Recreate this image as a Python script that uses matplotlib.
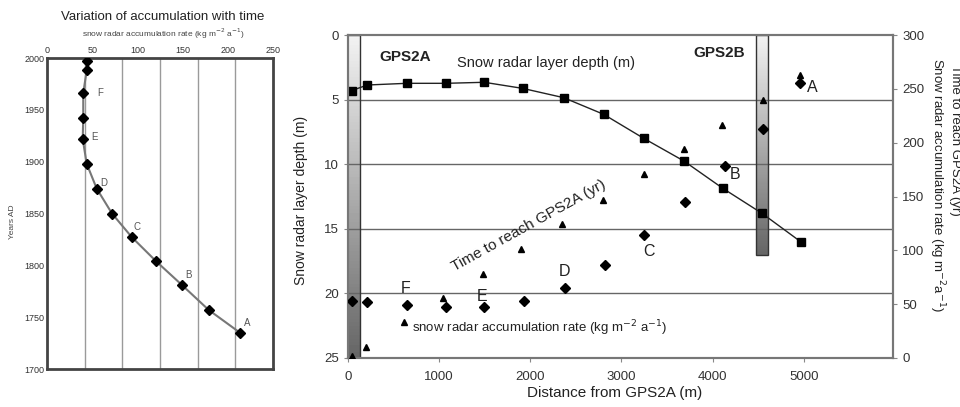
import numpy as np
import matplotlib
matplotlib.use("Agg")
import matplotlib.pyplot as plt
from matplotlib.patches import Rectangle

plt.rcParams['font.family'] = ['Liberation Sans', 'DejaVu Sans']

# ---------------- data: left panel (accumulation vs time) ----------------
left_rate = [43.9, 43.9, 40.1, 40.1, 39.5, 43.9, 55.0, 71.9, 94.0, 120.6, 149.3, 178.8, 213.5]
left_year = [1997, 1988, 1966, 1942, 1922, 1898, 1874, 1850, 1827, 1804, 1781, 1757, 1735]
left_labels = ['F', 'E', 'D', 'C', 'B', 'A']
left_label_rate = [58.6, 53, 63, 99.5, 156, 221]
left_label_year = [1966, 1924, 1879, 1837, 1791, 1744]

# ---------------- data: right panel ----------------
dist_depth = [41, 212, 645, 1074, 1495, 1915, 2366, 2805, 3245, 3685, 4113, 4542, 4967]
depth = [4.3, 3.87, 3.74, 3.74, 3.66, 4.13, 4.85, 6.14, 8.0, 9.75, 11.87, 13.8, 16.0]

dist_time = [41, 194, 615, 1047, 1476, 1898, 2348, 2802, 3245, 3685, 4106, 4553, 4963]
time_yr = [2, 10, 33, 56, 78, 101, 124, 147, 171, 194, 216, 240, 263]

dist_acc = [41, 212, 652, 1074, 1495, 1934, 2381, 2821, 3245, 3703, 4132, 4553, 4963]
acc_rate = [53, 52, 49, 47, 47, 53, 65, 86, 114, 145, 178, 213, 255]

right_labels = ['A', 'B', 'C', 'D', 'E', 'F']
right_label_x = [5099, 4242, 3308, 2381, 1469, 634]
right_label_y = [251, 170, 99, 80, 57, 65]

depth_ticks = [0, 5, 10, 15, 20, 25]
right_ticks = [0, 50, 100, 150, 200, 250, 300]
dist_ticks = [0, 1000, 2000, 3000, 4000, 5000]
gps_bars = [(-10, 130, 25.0), (4480, 4610, 17.0)]

W, H = 960, 407
fig = plt.figure(figsize=(W / 100, H / 100), dpi=100)
tc = '#222222'

def fx(px):
    return px / W

def fy(py):
    return 1 - py / H

# ---------------- left panel ----------------
axl = fig.add_axes([fx(47), fy(369), fx(273) - fx(47), fy(58) - fy(369)])
axl.set_xlim(0, 250)
axl.set_ylim(1700, 2000)
for g in np.arange(1, 6) * 250 / 6:
    axl.axvline(g, color='#9a9a9a', lw=1.0, zorder=1)
axl.plot(left_rate, left_year, color='#777777', lw=1.5, zorder=2)
axl.plot(left_rate, left_year, ls='none', marker='D', ms=5.5, color='black', zorder=3)
for t, xr, yr in zip(left_labels, left_label_rate, left_label_year):
    axl.text(xr, yr, t, fontsize=7, color='#555555', ha='center', va='center')
axl.xaxis.tick_top()
axl.set_xticks([0, 50, 100, 150, 200, 250])
axl.set_yticks(np.arange(1700, 2001, 50))
axl.tick_params(axis='both', length=0, labelsize=6.5, labelcolor='#333333', pad=2)
for s in axl.spines.values():
    s.set_linewidth(2.0)
    s.set_color('#444444')
fig.text(fx(163), fy(17), 'Variation of accumulation with time', fontsize=9.5,
         ha='center', va='center', color=tc)
fig.text(fx(163), fy(34), 'snow radar accumulation rate (kg m$^{-2}$ a$^{-1}$)', fontsize=6,
         ha='center', va='center', color='#444444')
fig.text(fx(12), fy(222), 'Years AD', fontsize=6, rotation=90, ha='center', va='center', color='#444444')

# ---------------- right panel ----------------
ax = fig.add_axes([fx(348), fy(358), fx(893) - fx(348), fy(35) - fy(358)])
xlim = (0, 5980)
for x0, x1, yb in gps_bars:
    grad = np.linspace(0.05, 0.6, 100).reshape(-1, 1)
    ax.imshow(grad, extent=(x0, x1, yb, 0), cmap='gray_r', vmin=0, vmax=1,
              aspect='auto', zorder=1, origin='upper')
    ax.add_patch(Rectangle((x0, 0), x1 - x0, yb, fill=False, ec='#333333', lw=1.0, zorder=2))
ax.set_xlim(*xlim)
ax.set_ylim(25, 0)
for d in [5, 10, 15, 20]:
    ax.axhline(d, color='#666666', lw=1.0, zorder=1.5)
ax.plot(dist_depth, depth, color='#222222', lw=1.0, marker='s', ms=5.5, mfc='black', mec='black', zorder=4)
ax.set_yticks(depth_ticks)
ax.set_xticks(dist_ticks)
ax.tick_params(axis='both', labelsize=9.5, labelcolor='#333333', length=3, color='#888888')
ax.tick_params(axis='x', pad=6)
for s in ax.spines.values():
    s.set_color('#777777')
    s.set_linewidth(1.5)

ax2 = ax.twinx()
ax2.set_ylim(0, 300)
ax2.set_xlim(*xlim)
ax2.plot(dist_time, time_yr, ls='none', marker='^', ms=5, color='black', zorder=5)
ax2.plot(dist_acc, acc_rate, ls='none', marker='D', ms=5.5, color='black', zorder=5)
ax2.set_yticks(right_ticks)
ax2.tick_params(axis='y', labelsize=9.5, labelcolor='#333333', length=3, color='#888888')
for s in ax2.spines.values():
    s.set_color('#777777')
    s.set_linewidth(1.5)
for t, xr, yr in zip(right_labels, right_label_x, right_label_y):
    ax2.text(xr, yr, t, fontsize=11.5, ha='center', va='center', color=tc)

fig.text(fx(405), fy(57), 'GPS2A', fontsize=11, fontweight='bold', ha='center', va='center', color=tc)
fig.text(fx(719), fy(53), 'GPS2B', fontsize=11, fontweight='bold', ha='center', va='center', color=tc)
fig.text(fx(546), fy(63), 'Snow radar layer depth (m)', fontsize=10.5, ha='center', va='center', color=tc)
fig.text(fx(529), fy(226), 'Time to reach GPS2A (yr)', fontsize=11, rotation=29,
         ha='center', va='center', color=tc)
fig.text(fx(412), fy(328), 'snow radar accumulation rate (kg m$^{-2}$ a$^{-1}$)', fontsize=9.5,
         ha='left', va='center', color=tc)
fig.text(fx(615), fy(393), 'Distance from GPS2A (m)', fontsize=11, ha='center', va='center', color=tc)
fig.text(fx(301), fy(200), 'Snow radar layer depth (m)', fontsize=10, rotation=90,
         ha='center', va='center', color=tc)
fig.text(fx(937), fy(185), 'Snow radar accumulation rate (kg m$^{-2}$a$^{-1}$)', fontsize=9.5,
         rotation=-90, ha='center', va='center', color=tc)
fig.text(fx(955), fy(140), 'Time to reach GPS2A (yr)', fontsize=9.5, rotation=-90,
         ha='center', va='center', color=tc)

fig.savefig('out.png', dpi=100)
